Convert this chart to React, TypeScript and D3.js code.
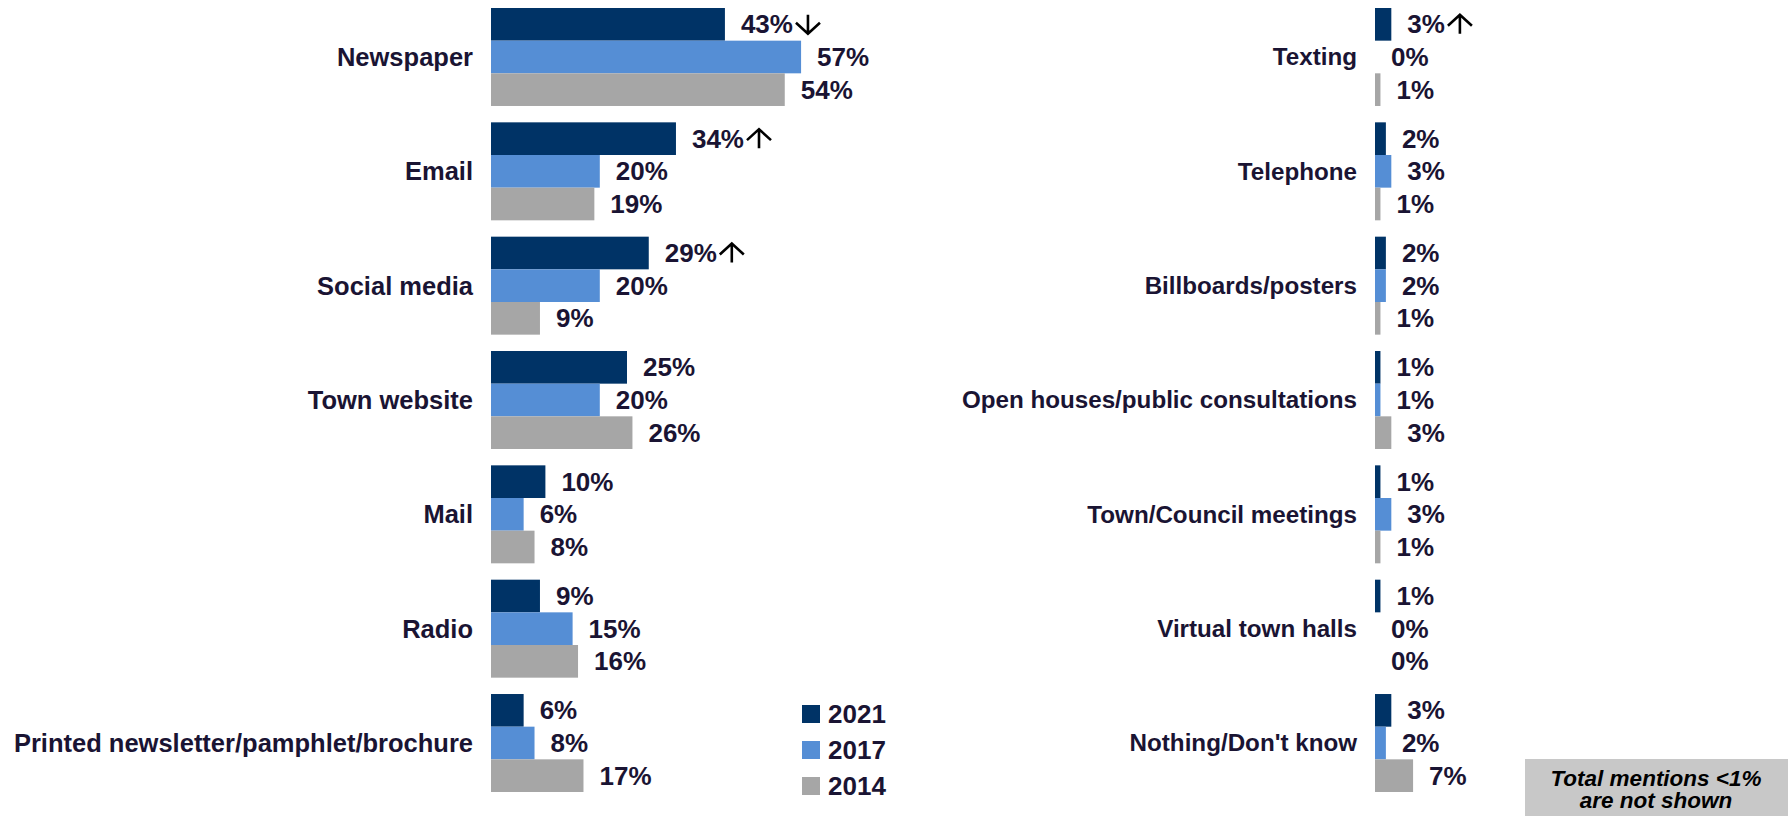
import React from "react";
import * as d3 from "d3";

const years = ["2021", "2017", "2014"];
const colors = ["#003366", "#558ed5", "#a6a6a6"];

const leftCategories = [
  "Newspaper",
  "Email",
  "Social media",
  "Town website",
  "Mail",
  "Radio",
  "Printed newsletter/pamphlet/brochure",
];
const left2021 = [43, 34, 29, 25, 10, 9, 6];
const left2017 = [57, 20, 20, 20, 6, 15, 8];
const left2014 = [54, 19, 9, 26, 8, 16, 17];
const leftArrows2021 = ["down", "up", "up", "", "", "", ""];

const rightCategories = [
  "Texting",
  "Telephone",
  "Billboards/posters",
  "Open houses/public consultations",
  "Town/Council meetings",
  "Virtual town halls",
  "Nothing/Don't know",
];
const right2021 = [3, 2, 2, 1, 1, 1, 3];
const right2017 = [0, 3, 2, 1, 3, 0, 2];
const right2014 = [1, 1, 1, 3, 1, 0, 7];
const rightArrows2021 = ["up", "", "", "", "", "", ""];

const noteLines = ["Total mentions <1%", "are not shown"];

const width = 1788;
const height = 816;
const textColor = "#1a1433";
const font = "'Liberation Sans', Arial, sans-serif";
const valueSize = 26;

// rough text width so the trend arrow can sit right after the label
let ctx: CanvasRenderingContext2D | null = null;
const measure = (s: string, size: number) => {
  if (!ctx) ctx = document.createElement("canvas").getContext("2d");
  if (!ctx) return s.length * size * 0.6;
  ctx.font = `bold ${size}px 'Liberation Sans'`;
  return ctx.measureText(s).width;
};

const arrowPath = (cx: number, cy: number, dir: string) => {
  const h = 19;
  const w = 12;
  const head = 11;
  if (dir === "up") {
    const t = cy - h / 2;
    return `M${cx},${t + h}V${t}M${cx - w},${t + head}L${cx},${t}L${cx + w},${t + head}`;
  }
  const b = cy + h / 2;
  return `M${cx},${b - h}V${b}M${cx - w},${b - head}L${cx},${b}L${cx + w},${b - head}`;
};

interface PanelProps {
  categories: string[];
  series: number[][];
  arrows: string[];
  x0: number;
  labelSize: number;
}

const Panel: React.FC<PanelProps> = ({ categories, series, arrows, x0, labelSize }) => {
  const y = d3
    .scaleBand<string>()
    .domain(categories)
    .range([8, 792])
    .paddingInner(0.143)
    .paddingOuter(0);

  const inner = d3
    .scaleBand<string>()
    .domain(years)
    .range([0, y.bandwidth()]);

  const x = d3.scaleLinear().domain([0, 100]).range([x0, x0 + 544]);

  return (
    <g>
      {categories.map((cat, i) => {
        const top = y(cat)!;
        return (
          <g key={cat}>
            <text
              x={x0 - 18}
              y={top + y.bandwidth() / 2}
              dy="0.35em"
              textAnchor="end"
              fontSize={labelSize}
              fontWeight="bold"
              fill={textColor}
            >
              {cat}
            </text>
            {years.map((yr, j) => {
              const v = series[j][i];
              const by = top + inner(yr)!;
              const cy = by + inner.bandwidth() / 2;
              const label = v + "%";
              const arrow = j === 0 ? arrows[i] : "";
              const lx = x(v) + 16;
              return (
                <g key={yr}>
                  <rect
                    x={x(0)}
                    y={by}
                    width={x(v) - x(0)}
                    height={inner.bandwidth()}
                    fill={colors[j]}
                  />
                  <text
                    x={lx}
                    y={cy}
                    dy="0.35em"
                    fontSize={valueSize}
                    fontWeight="bold"
                    fill={textColor}
                  >
                    {label}
                  </text>
                  {arrow && (
                    <path
                      d={arrowPath(lx + measure(label, valueSize) + 15, cy, arrow)}
                      fill="none"
                      stroke="#000"
                      strokeWidth={2.6}
                    />
                  )}
                </g>
              );
            })}
          </g>
        );
      })}
    </g>
  );
};

export default function App() {
  const legendY = d3.scalePoint<string>().domain(years).range([705, 777]);

  return (
    <svg
      width={width}
      height={height}
      style={{ position: "absolute", left: 0, top: 0, fontFamily: font }}
    >
      <rect width={width} height={height} fill="#fff" />
      <Panel
        categories={leftCategories}
        series={[left2021, left2017, left2014]}
        arrows={leftArrows2021}
        x0={491}
        labelSize={25.5}
      />
      <Panel
        categories={rightCategories}
        series={[right2021, right2017, right2014]}
        arrows={rightArrows2021}
        x0={1375}
        labelSize={24.2}
      />

      {/* Legend */}
      {years.map((yr, j) => (
        <g key={yr} transform={`translate(802,${legendY(yr)})`}>
          <rect width={18} height={18} fill={colors[j]} />
          <text x={26} y={9} dy="0.35em" fontSize={26} fontWeight="bold" fill={textColor}>
            {yr}
          </text>
        </g>
      ))}

      {/* Note box */}
      <rect x={1525} y={759} width={263} height={60} fill="#c8c8c8" />
      {noteLines.map((line, i) => (
        <text
          key={line}
          x={1656}
          y={786 + i * 22}
          textAnchor="middle"
          fontSize={22.5}
          fontWeight="bold"
          fontStyle="italic"
          fill="#000"
        >
          {line}
        </text>
      ))}
    </svg>
  );
}
